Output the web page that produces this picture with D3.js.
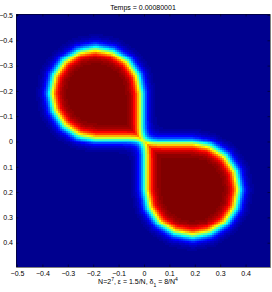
<!DOCTYPE html>
<html>
<head>
<meta charset="utf-8">
<script src="https://cdn.jsdelivr.net/npm/d3@7"></script>
<style>
  body { margin: 0; background: #fff; }
  text { font-family: "Liberation Sans", Arial, sans-serif; font-size: 7px; fill: #000; }
</style>
</head>
<body>
<div id="holder"></div>
<script>
// grid size of the phase field (N = 2^7)
var N = 128;
var eps = 1.5 / N;

var title = "Temps = 0.00080001";
var xTicks = [-0.5, -0.4, -0.3, -0.2, -0.1, 0, 0.1, 0.2, 0.3, 0.4];
var yTicks = [-0.5, -0.4, -0.3, -0.2, -0.1, 0, 0.1, 0.2, 0.3, 0.4];

// outline (0.5 level) of the upper-left drop
var dropUpX = [-0.012, -0.0255, -0.0645, -0.123, -0.19, -0.259, -0.3155, -0.3545, -0.368, -0.3545, -0.3155, -0.259, -0.19, -0.012];
var dropUpY = [-0.19, -0.259, -0.3155, -0.3545, -0.368, -0.3545, -0.3155, -0.259, -0.19, -0.123, -0.0645, -0.0255, -0.012, -0.012];

// outline (0.5 level) of the lower-right drop
var dropDownX = [0.006, 0.0199, 0.0595, 0.1195, 0.19, 0.2605, 0.3205, 0.3601, 0.374, 0.3601, 0.3205, 0.2605, 0.19, 0.006];
var dropDownY = [0.19, 0.2605, 0.3205, 0.3601, 0.374, 0.3601, 0.3205, 0.2605, 0.19, 0.1195, 0.0595, 0.0199, 0.006, 0.006];

// margins and size of the axes box
var margin = {top: 14, right: 2, bottom: 25, left: 16},
    width = 254,
    height = 253;

var svg = d3.select("#holder")
  .append("svg")
  .attr("width", 272)
  .attr("height", 292)
  .append("g")
  .attr("transform", "translate(" + margin.left + "," + margin.top + ")");

// image extends half a cell past the first / last sample
var x = d3.scaleLinear()
  .domain([-0.5 - 0.5 / N, 0.5 - 0.5 / N])
  .range([0, width]);
var y = d3.scaleLinear()
  .domain([-0.5 - 0.5 / N, 0.5 - 0.5 / N])
  .range([0, height]);

// matlab jet(64)
function jet64() {
  var m = 64, n = Math.ceil(m / 4), u = [];
  for (var i = 1; i <= n; i++) u.push(i / n);
  for (var i = 1; i < n; i++) u.push(1);
  for (var i = n; i >= 1; i--) u.push(i / n);
  var J = d3.range(m).map(() => [0, 0, 0]);
  var g0 = Math.ceil(n / 2) - (m % 4 === 1 ? 1 : 0);
  u.forEach(function(v, k) {
    var g = g0 + k + 1, r = g + n, b = g - n;
    if (g <= m) J[g - 1][1] = v;
    if (r <= m) J[r - 1][0] = v;
    if (b >= 1) J[b - 1][2] = v;
  });
  return J.map(c => d3.rgb(c[0] * 255, c[1] * 255, c[2] * 255).formatHex());
}
var jet = jet64();

function segDist(px, py, ax, ay, bx, by) {
  var dx = bx - ax, dy = by - ay;
  var t = ((px - ax) * dx + (py - ay) * dy) / (dx * dx + dy * dy);
  t = Math.max(0, Math.min(1, t));
  var ex = ax + t * dx - px, ey = ay + t * dy - py;
  return Math.sqrt(ex * ex + ey * ey);
}

// tanh profile across the signed distance to an outline
function phase(xs, ys, px, py) {
  var poly = xs.map((v, i) => [v, ys[i]]);
  var d = Infinity;
  for (var i = 0; i < poly.length; i++) {
    var a = poly[i], b = poly[(i + 1) % poly.length];
    d = Math.min(d, segDist(px, py, a[0], a[1], b[0], b[1]));
  }
  if (d3.polygonContains(poly, [px, py])) d = -d;
  return 0.5 * (1 - Math.tanh(d / (2.4 * eps)));
}

var cells = [];
for (var j = 0; j < N; j++) {
  for (var i = 0; i < N; i++) {
    var cx = -0.5 + i / N, cy = -0.5 + j / N;
    var u = phase(dropUpX, dropUpY, cx, cy) + phase(dropDownX, dropDownY, cx, cy);
    cells.push({x: cx, y: cy, u: Math.min(1, u)});
  }
}

var color = function(u) {
  var k = Math.min(63, Math.max(0, Math.floor(u * 64)));
  return jet[k];
};

var cw = x(1 / N) - x(0), ch = y(1 / N) - y(0);

svg.append("g")
  .attr("shape-rendering", "crispEdges")
  .selectAll("rect")
  .data(cells)
  .enter()
  .append("rect")
  .attr("x", d => x(d.x - 0.5 / N))
  .attr("y", d => y(d.y - 0.5 / N))
  .attr("width", cw + 0.3)
  .attr("height", ch + 0.3)
  .attr("fill", d => color(d.u));

var fmt = d => d === 0 ? "0" : d3.format(".1f")(d);

// axes, ticks pointing inwards
svg.append("g")
  .attr("transform", "translate(0," + height + ")")
  .call(d3.axisBottom(x).tickValues(xTicks).tickFormat(fmt).tickSizeInner(-2.5).tickSizeOuter(0).tickPadding(4));
svg.append("g")
  .call(d3.axisTop(x).tickValues(xTicks).tickFormat("").tickSizeInner(-2.5).tickSizeOuter(0));
svg.append("g")
  .call(d3.axisLeft(y).tickValues(yTicks).tickFormat(fmt).tickSizeInner(-2.5).tickSizeOuter(0).tickPadding(3));
svg.append("g")
  .attr("transform", "translate(" + width + ",0)")
  .call(d3.axisRight(y).tickValues(yTicks).tickFormat("").tickSizeInner(-2.5).tickSizeOuter(0));

svg.selectAll(".domain").attr("stroke", "#000").attr("stroke-width", 0.5);
svg.selectAll(".tick line").attr("stroke", "#000").attr("stroke-width", 0.5);
svg.selectAll(".tick text").style("font-size", "7px").attr("fill", "#000");

// title
svg.append("text")
  .attr("x", width / 2)
  .attr("y", -4)
  .attr("text-anchor", "middle")
  .text(title);

// x label with sub/superscripts
var xl = svg.append("text")
  .attr("x", width / 2 - 5)
  .attr("y", height + 17)
  .attr("text-anchor", "middle");
xl.append("tspan").text("N=2");
xl.append("tspan").attr("baseline-shift", "super").style("font-size", "5px").text("7");
xl.append("tspan").text(", \u03b5 = 1.5/N, \u03b4");
xl.append("tspan").attr("baseline-shift", "sub").style("font-size", "5px").text("1");
xl.append("tspan").text(" = 8/N");
xl.append("tspan").attr("baseline-shift", "super").style("font-size", "5px").text("4");
</script>
</body>
</html>
